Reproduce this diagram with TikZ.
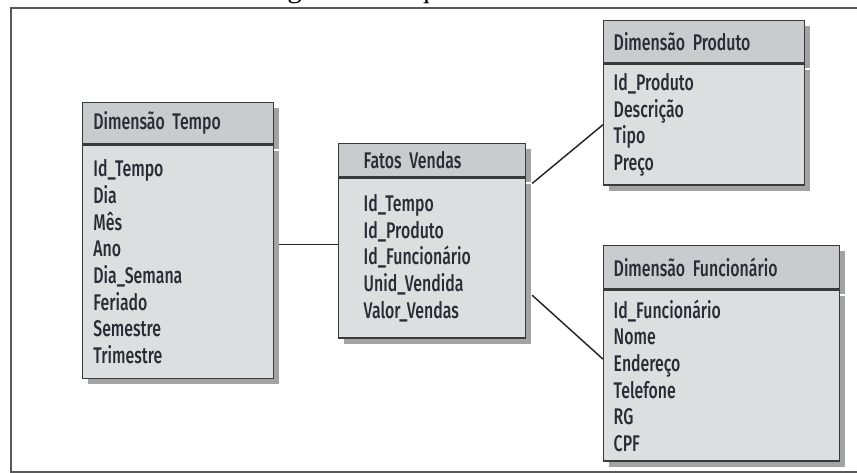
\documentclass[tikz,border=0pt]{standalone}
\usepackage{fontspec}
\newfontfamily\tabfont{Fira Sans}[UprightFont={* Medium}, FakeStretch=0.7]
\newfontfamily\capfont{Liberation Serif}
\usetikzlibrary{shadows}

\definecolor{bord}{HTML}{3A3A3A}
\definecolor{hdrfill}{HTML}{C9CBCE}
\definecolor{bodyfill}{HTML}{DCDEE0}
\definecolor{shade}{HTML}{A3A3A3}
\definecolor{ink}{HTML}{2B2B36}

\begin{document}
\begin{tikzpicture}[x=0.75pt, y=-0.75pt,
  tab/.style={draw=bord, line width=1.1pt, anchor=north west, align=left, inner ysep=0pt, text=ink,
    font=\tabfont\fontsize{17}{20}\selectfont,
    general shadow={fill=shade, shadow xshift=4pt, shadow yshift=-4pt}},
  hdr/.style={tab, fill=hdrfill},
  body/.style={tab, fill=bodyfill},
  link/.style={line width=1.1pt, black!85}]
\useasboundingbox (0,0) rectangle (857,473);
\node[font=\capfont\fontsize{22}{24}\selectfont, anchor=base] (cap) at (420,-2) {Figura 1 - Esquema estrela};
\draw[black!65, line width=1.1pt] (11,8) rectangle (870,472);

\node[hdr, inner xsep=8pt, text width=127pt, minimum height=30.75pt] (tempoH) at (82,102) {Dimensão Tempo};
\node[body, inner xsep=8pt, text width=127pt, minimum height=175pt] (tempoB) at (tempoH.south west)
  {Id\_Tempo\\Dia\\Mês\\Ano\\Dia\_Semana\\Feriado\\Semestre\\Trimestre};

\node[hdr, inner xsep=18.75pt, text width=102.5pt, minimum height=24.75pt] (fatosH) at (338,143) {Fatos Vendas};
\node[body, inner xsep=18.75pt, text width=102.5pt, minimum height=120pt] (fatosB) at (fatosH.south west)
  {Id\_Tempo\\Id\_Produto\\Id\_Funcionário\\Unid\_Vendida\\Valor\_Vendas};

\node[hdr, inner xsep=7.5pt, text width=135.75pt, minimum height=31.5pt] (produtoH) at (603,20) {Dimensão Produto};
\node[body, inner xsep=7.5pt, text width=135.75pt, minimum height=90.75pt] (produtoB) at (produtoH.south west)
  {Id\_Produto\\Descrição\\Tipo\\Preço};

\node[hdr, inner xsep=7.5pt, text width=162pt, minimum height=32.25pt] (funcH) at (603,245) {Dimensão Funcionário};
\node[body, inner xsep=7.5pt, text width=162pt, minimum height=128.25pt] (funcB) at (funcH.south west)
  {Id\_Funcionário\\Nome\\Endereço\\Telefone\\RG\\CPF};

\draw[link] ([xshift=4pt, yshift=13pt]tempoB.east) coordinate (t1) -- (t1 -| fatosB.west);
\draw[link] ([xshift=4.5pt, yshift=-4.5pt]fatosB.north east) -- (produtoB.west);
\draw[link] ([xshift=4.5pt, yshift=-27.75pt]fatosB.east) -- ([yshift=12.4pt]funcB.west);
\end{tikzpicture}
\end{document}
